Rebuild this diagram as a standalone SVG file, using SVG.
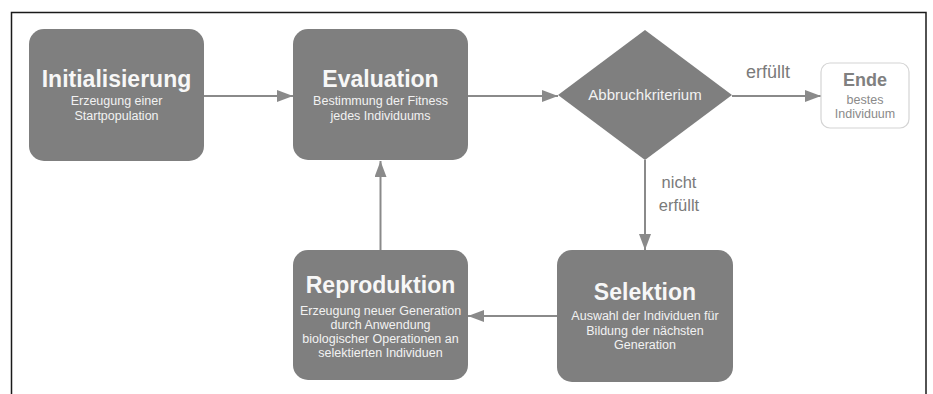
<svg xmlns="http://www.w3.org/2000/svg" width="933" height="394" viewBox="0 0 933 394">
<defs>
<marker id="ah" viewBox="0 0 16 12" refX="16" refY="6" markerWidth="16" markerHeight="12" markerUnits="userSpaceOnUse" orient="auto">
<path d="M0,0 L16,6 L0,12 Z" fill="#8a8a8a"/>
</marker>
<style>
.box{fill:#7f7f7f;}
.t{font-family:"Liberation Sans",Arial,sans-serif;font-weight:bold;font-size:23px;fill:#f7f7f7;text-anchor:middle;}
.s{font-family:"Liberation Sans",Arial,sans-serif;font-size:12.5px;fill:#f2f2f2;text-anchor:middle;}
.c{fill:none;stroke:#8a8a8a;stroke-width:2;marker-end:url(#ah);}
.lbl{font-family:"Liberation Sans",Arial,sans-serif;font-size:16.5px;fill:#7a7a7a;text-anchor:middle;}
</style>
</defs>
<rect width="933" height="394" fill="#ffffff"/>
<path d="M11.5,394 V12.5 H926 V394" fill="none" stroke="#1a1a1a" stroke-width="1.5"/>

<g id="connectors">
<line class="c" x1="204" y1="96" x2="293" y2="96"/>
<line class="c" x1="468" y1="96" x2="558" y2="96"/>
<line class="c" x1="732" y1="96" x2="821" y2="96"/>
<line class="c" x1="645" y1="160" x2="645" y2="250"/>
<line class="c" x1="557" y1="316" x2="468" y2="316"/>
<line class="c" x1="380.5" y1="250" x2="380.5" y2="161"/>
<text class="lbl" x="768" y="78" style="font-size:18px">erfüllt</text>
<text class="lbl" x="679" y="188">nicht</text>
<text class="lbl" x="679" y="211">erfüllt</text>
</g>

<g id="initialisierung">
<rect class="box" x="29" y="29" width="175" height="132" rx="15"/>
<text class="t" x="116.5" y="87">Initialisierung</text>
<text class="s" x="116.5" y="105">Erzeugung einer</text>
<text class="s" x="116.5" y="120">Startpopulation</text>
</g>

<g id="evaluation">
<rect class="box" x="293" y="29" width="175" height="131" rx="15"/>
<text class="t" x="380.5" y="87">Evaluation</text>
<text class="s" x="380.5" y="105">Bestimmung der Fitness</text>
<text class="s" x="380.5" y="120">jedes Individuums</text>
</g>

<g id="abbruchkriterium">
<polygon class="box" points="645,30 732,95 645,160 558,95"/>
<text class="s" x="645" y="100" style="font-size:15px">Abbruchkriterium</text>
</g>

<g id="ende">
<rect x="821" y="63" width="88" height="65" rx="9" fill="#ffffff" stroke="#d4d4d4" stroke-width="1.2"/>
<text class="t" x="865" y="86" style="font-size:18px;fill:#808080">Ende</text>
<text class="s" x="865" y="104" style="fill:#8a8a8a">bestes</text>
<text class="s" x="865" y="118" style="fill:#8a8a8a">Individuum</text>
</g>

<g id="selektion">
<rect class="box" x="557" y="250" width="176" height="132" rx="15"/>
<text class="t" x="645" y="300">Selektion</text>
<text class="s" x="645" y="320">Auswahl der Individuen für</text>
<text class="s" x="645" y="335">Bildung der nächsten</text>
<text class="s" x="645" y="349">Generation</text>
</g>

<g id="reproduktion">
<rect class="box" x="293" y="250" width="175" height="130" rx="15"/>
<text class="t" x="380.5" y="293">Reproduktion</text>
<text class="s" x="380.5" y="315">Erzeugung neuer Generation</text>
<text class="s" x="380.5" y="329">durch Anwendung</text>
<text class="s" x="380.5" y="343">biologischer Operationen an</text>
<text class="s" x="380.5" y="357">selektierten Individuen</text>
</g>
</svg>
